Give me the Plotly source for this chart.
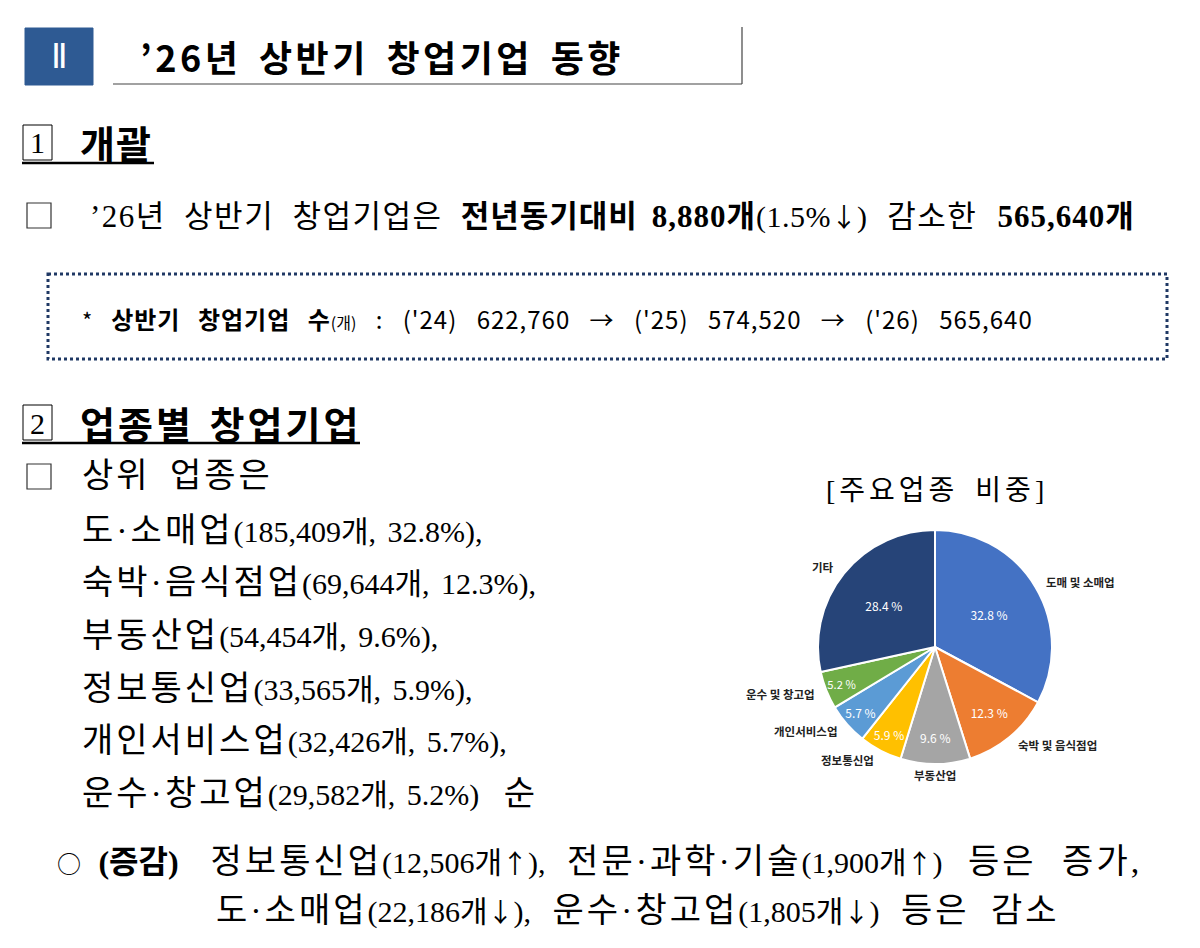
import math
import plotly.graph_objects as go

W, H = 1200, 948
OFF = 8  # page margin around the plot div

# pie: major sector shares (%)
sectors = ["도매 및 소매업", "숙박 및 음식점업", "부동산업", "정보통신업", "개인서비스업", "운수 및 창고업", "기타"]
shares = [32.8, 12.3, 9.6, 5.9, 5.7, 5.2, 28.4]
sector_colors = ["#4472C4", "#ED7D31", "#A5A5A5", "#FFC000", "#5B9BD5", "#70AD47", "#264478"]

# top sectors list
top_names = ["도·소매업", "숙박·음식점업", "부동산업", "정보통신업", "개인서비스업", "운수·창고업"]
top_counts = [185409, 69644, 54454, 33565, 32426, 29582]
top_shares = [32.8, 12.3, 9.6, 5.9, 5.7, 5.2]

# first-half startup counts
years = ["'24", "'25", "'26"]
half_counts = [622760, 574520, 565640]
yoy_drop = 8880
yoy_drop_pct = 1.5

# changes
up_names = ["정보통신업", "전문·과학·기술"]
up_counts = [12506, 1900]
down_names = ["도·소매업", "운수·창고업"]
down_counts = [22186, 1805]

SERIF = "Liberation Serif, Noto Sans CJK KR"
SANS = "Noto Sans CJK KR"


def px(x):
    return (x - OFF) / W


def py(y):
    return 1 - (y - OFF) / H


annotations = []
shapes = []


def text(x, y, s, size=30, family=SERIF, anchor="left", color="black"):
    annotations.append(dict(
        x=px(x), y=py(y), xref="paper", yref="paper", text=s, showarrow=False,
        xanchor=anchor, yanchor="middle",
        font={"size": size, "family": family, "color": color},
    ))


def seg(s, size, ls=0, ws=0, bold=False, family=None):
    style = f"font-size:{size}px;letter-spacing:{ls}px;word-spacing:{ws}px"
    if bold:
        style += ";font-weight:bold"
    if family:
        style += f";font-family:{family}"
    return f"<span style='{style}'>{s}</span>"


def paren(count, arrow, size=30):
    # "(12,506개↑)" with the arrow drawn from the CJK font
    return seg(f"({count:,}개", size) + seg(arrow, size - 4, family=SANS) + seg(")", size)


def rect(x0, y0, x1, y1, color="black", width=1, fill=None, dash="solid"):
    shapes.append(dict(
        type="rect", xref="paper", yref="paper",
        x0=px(x0), y0=py(y0), x1=px(x1), y1=py(y1),
        line={"color": color, "width": width, "dash": dash},
        fillcolor=fill,
    ))


def line(x0, y0, x1, y1, color="black", width=1):
    shapes.append(dict(
        type="line", xref="paper", yref="paper",
        x0=px(x0), y0=py(y0), x1=px(x1), y1=py(y1),
        line={"color": color, "width": width},
    ))


# --- header
rect(25, 28, 93, 85, color="#2E5A93", width=1, fill="#2E5A93")
text(59, 57, "Ⅱ", 34, family="Liberation Serif", anchor="center", color="white")
line(113, 84, 742, 84, color="#444444", width=1.2)
line(742, 27, 742, 84, color="#444444", width=1.2)
text(138, 56, seg("’26년 상반기 창업기업 동향", 36, ls=3.5, ws=6, bold=True), 36, family=SANS)

# --- section 1
rect(23, 125, 52, 160, color="black", width=1)
text(37.5, 143, "1", 30, family="Liberation Serif", anchor="center")
text(78, 142, seg("개괄", 38, ls=1, bold=True), 38, family=SANS)
line(22, 163, 154, 163, width=2.5)

rect(27, 203, 51, 228, color="#333333", width=1.2)
text(88, 215,
     seg("’26년 상반기 창업기업은 ", 31, ls=1.5, ws=9)
     + seg(f"전년동기대비 {yoy_drop:,}개", 31, ls=1, ws=5, bold=True)
     + seg(f"({yoy_drop_pct}%", 30, ls=0.5) + seg("↓", 26, family=SANS) + seg(")", 30)
     + seg(" 감소한 ", 31, ls=1.5, ws=11)
     + seg(f"{half_counts[-1]:,}개", 31, ls=1, bold=True),
     31)

rect(48, 274, 1167, 359, color="#1F3864", width=3, dash="dot")
trend = " → ".join(f"({y}) {c:,}" for y, c in zip(years, half_counts))
text(80, 318,
     seg("* ", 22, ws=14)
     + seg("상반기 창업기업 수", 24, ls=1, ws=11, bold=True)
     + seg("(개)", 16)
     + seg(" : " + trend, 24, ls=1, ws=13),
     24, family=SANS)

# --- section 2
rect(23, 405, 52, 440, color="black", width=1)
text(37.5, 423, "2", 30, family="Liberation Serif", anchor="center")
text(78, 422, seg("업종별 창업기업", 38, ls=3, ws=4, bold=True), 38, family=SANS)
line(22, 443, 360, 443, width=2.5)

rect(27, 464, 51, 489, color="#333333", width=1.2)
text(80, 476, seg("상위 업종은", 34, ls=3, ws=8), 34)
for i, (n, c, s) in enumerate(zip(top_names, top_counts, top_shares)):
    last = i == len(top_names) - 1
    tail = seg(f"({c:,}개, {s}%)" + ("" if last else ","), 30, ws=4)
    if last:
        tail += seg(" 순", 34, ws=16)
    text(80, 530 + i * 52.7, seg(n, 34, ls=3) + tail, 34)

# --- changes
line1 = seg("○ ", 24, ws=12, family=SANS) + seg("(증감) ", 32, ws=24, bold=True)
for k, (n, c) in enumerate(zip(up_names, up_counts)):
    line1 += seg((" " if k else "") + n, 34, ls=3, ws=10)
    line1 += paren(c, "↑") + (seg(",", 30) if k < len(up_names) - 1 else "")
line1 += seg(" 등은 증가,", 34, ls=3, ws=14)
text(55, 861, line1, 34)

line2 = ""
for k, (n, c) in enumerate(zip(down_names, down_counts)):
    line2 += seg((" " if k else "") + n, 34, ls=3, ws=10)
    line2 += paren(c, "↓") + (seg(",", 30) if k < len(down_names) - 1 else "")
line2 += seg(" 등은 감소", 34, ls=3, ws=10)
text(214, 910, line2, 34)

# --- pie
cx, cy, R = 935, 647, 117
text(937, 490, seg("[주요업종 비중]", 28, ls=4, ws=6), 28, anchor="center")

fig = go.Figure()
fig.add_trace(go.Pie(
    labels=sectors,
    values=shares,
    sort=False,
    direction="clockwise",
    rotation=0,
    marker={"colors": sector_colors, "line": {"color": "white", "width": 2}},
    texttemplate="%{value:.1f} %",
    textposition="inside",
    insidetextorientation="horizontal",
    textfont={"color": "white", "size": 12, "family": SANS},
    domain={"x": [px(cx - R), px(cx + R)], "y": [py(cy + R), py(cy - R)]},
    showlegend=False,
    hoverinfo="label+percent",
))

# outer category labels along each slice's middle angle
total = sum(shares)
acc = 0
for name, v in zip(sectors, shares):
    mid = (acc + v / 2) / total * 2 * math.pi
    acc += v
    sx, sy = math.sin(mid), math.cos(mid)
    lx = cx + 1.09 * R * sx
    ly = cy - 1.09 * R * sy
    anchor = "left" if sx > 0.3 else ("right" if sx < -0.3 else "center")
    text(lx, ly, f"<b>{name}</b>", 11.5, family=SANS, anchor=anchor, color="#222222")

fig.update_layout(
    width=W, height=H,
    margin={"l": 0, "r": 0, "t": 0, "b": 0},
    paper_bgcolor="white",
    plot_bgcolor="white",
    annotations=annotations,
    shapes=shapes,
)

fig.write_html("out.html")
